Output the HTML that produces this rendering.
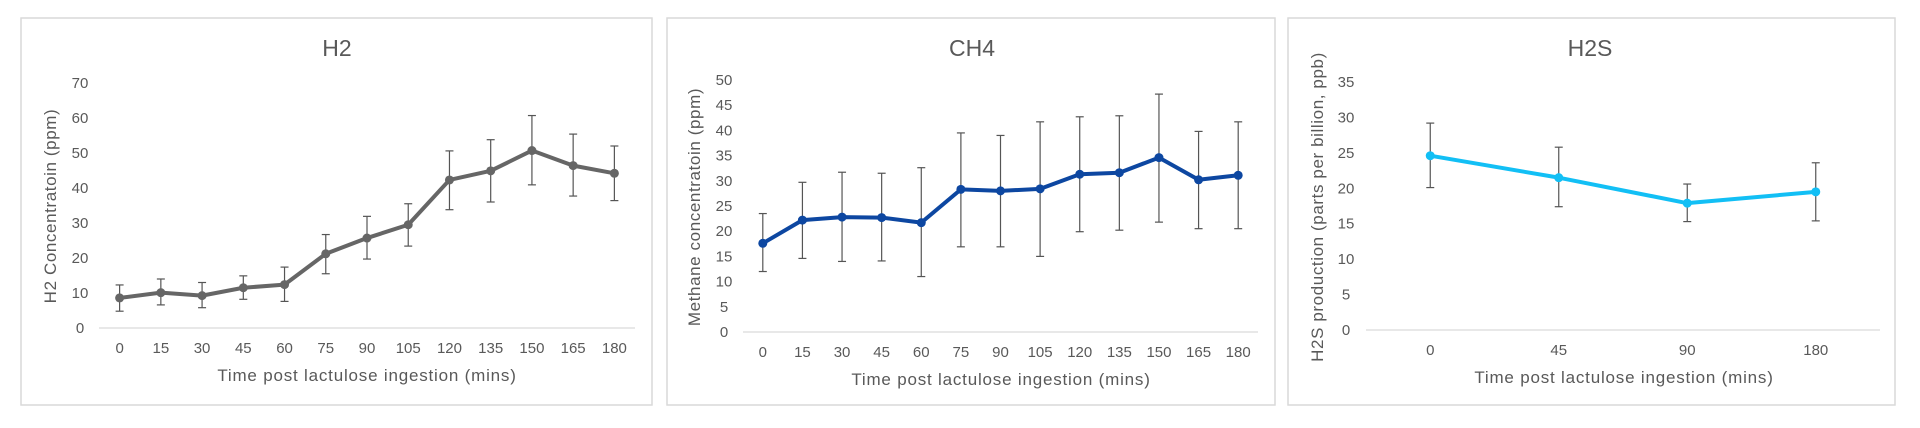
<!DOCTYPE html>
<html><head><meta charset="utf-8"><style>
html,body{margin:0;padding:0;background:#fff;width:1920px;height:428px;overflow:hidden}
svg text{font-family:"Liberation Sans",sans-serif;fill:#595959}
</style></head><body>
<svg id="s" width="1920" height="428" xmlns="http://www.w3.org/2000/svg"></svg>
<script>
var s=document.getElementById('s'),h='';
function chart(c){
  h+='<rect x="'+c.px1+'" y="18" width="'+(c.px2-c.px1)+'" height="387" fill="#fff" stroke="#d9d9d9" stroke-width="1.5"/>';
  h+='<text x="'+c.tx+'" y="56" font-size="23" text-anchor="middle">'+c.title+'</text>';
  var Y=function(v){return c.y0-(c.y0-c.ytop)*v/c.ymax;};
  h+='<line x1="'+c.ax1+'" x2="'+c.ax2+'" y1="'+c.y0+'" y2="'+c.y0+'" stroke="#d9d9d9" stroke-width="1.2"/>';
  for(var v=0;v<=c.ymax;v+=c.ystep){h+='<text x="'+c.ylx+'" y="'+(Y(v)+5)+'" font-size="15" text-anchor="middle">'+v+'</text>';}
  var n=c.cats.length,w=(c.ax2-c.ax1)/n,X=function(i){return c.ax1+w*(i+0.5);};
  c.cats.forEach(function(t,i){h+='<text x="'+X(i)+'" y="'+(c.y0+25)+'" font-size="15" text-anchor="middle">'+t+'</text>';});
  h+='<text x="'+c.xtx+'" y="'+(c.y0+53)+'" font-size="17" letter-spacing="0.8" text-anchor="middle">Time post lactulose ingestion (mins)</text>';
  h+='<text transform="translate('+c.ytx+','+c.yty+') rotate(-90)" font-size="17" letter-spacing="0.6" text-anchor="middle">'+c.ytitle+'</text>';
  c.d.forEach(function(d,i){var x=X(i);
    h+='<line x1="'+x+'" x2="'+x+'" y1="'+Y(d[1])+'" y2="'+Y(d[2])+'" stroke="#555" stroke-width="1.2"/>';
    h+='<line x1="'+(x-4)+'" x2="'+(x+4)+'" y1="'+Y(d[1])+'" y2="'+Y(d[1])+'" stroke="#555" stroke-width="1.2"/>';
    h+='<line x1="'+(x-4)+'" x2="'+(x+4)+'" y1="'+Y(d[2])+'" y2="'+Y(d[2])+'" stroke="#555" stroke-width="1.2"/>';});
  var p=c.d.map(function(d,i){return X(i)+','+Y(d[0]);}).join(' ');
  h+='<polyline points="'+p+'" fill="none" stroke="'+c.col+'" stroke-width="4" stroke-linejoin="round"/>';
  c.d.forEach(function(d,i){h+='<circle cx="'+X(i)+'" cy="'+Y(d[0])+'" r="4.5" fill="'+c.col+'"/>';});
}
var t13=['0','15','30','45','60','75','90','105','120','135','150','165','180'];
chart({px1:21,px2:652,tx:337,title:'H2',y0:328,ytop:83,ymax:70,ystep:10,ax1:99,ax2:635,ylx:80,ytx:56,yty:206,xtx:367,
 ytitle:'H2 Concentratoin (ppm)',cats:t13,col:'#666666',
 d:[[8.6,12.3,4.8],[10.1,14,6.6],[9.25,13,5.8],[11.5,14.9,8.2],[12.4,17.4,7.6],[21.2,26.7,15.5],[25.7,31.9,19.7],[29.5,35.5,23.4],[42.3,50.6,33.8],[44.9,53.8,36],[50.7,60.7,40.9],[46.4,55.4,37.7],[44.2,52,36.4]]});
chart({px1:667,px2:1275,tx:972,title:'CH4',y0:332,ytop:80,ymax:50,ystep:5,ax1:743,ax2:1258,ylx:724,ytx:700,yty:207,xtx:1001,
 ytitle:'Methane concentratoin (ppm)',cats:t13,col:'#0d47a1',
 d:[[17.6,23.5,12],[22.2,29.7,14.6],[22.8,31.7,14],[22.7,31.5,14.1],[21.7,32.6,11],[28.3,39.5,16.9],[28,39,16.9],[28.4,41.7,15],[31.3,42.7,19.9],[31.6,42.9,20.2],[34.6,47.2,21.8],[30.2,39.8,20.5],[31.1,41.7,20.5]]});
chart({px1:1288,px2:1895,tx:1590,title:'H2S',y0:330,ytop:82,ymax:35,ystep:5,ax1:1366,ax2:1880,ylx:1346,ytx:1323,yty:207,xtx:1624,
 ytitle:'H2S production (parts per billion, ppb)',cats:['0','45','90','180'],col:'#12bff5',
 d:[[24.6,29.2,20.1],[21.5,25.8,17.4],[17.9,20.6,15.3],[19.5,23.6,15.4]]});
s.innerHTML=h;
</script>
</body></html>
